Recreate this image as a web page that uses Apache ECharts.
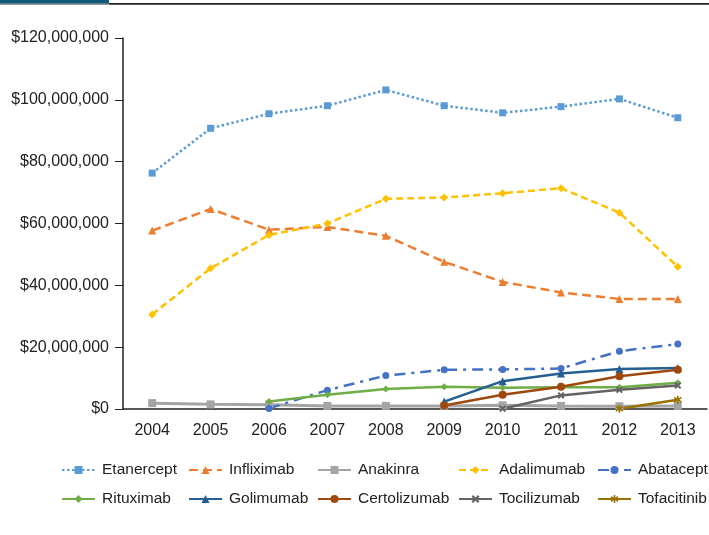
<!DOCTYPE html>
<html>
<head>
<meta charset="utf-8">
<style>
html,body{margin:0;padding:0;background:#fff;}
#chart{width:709px;height:535px;}
</style>
<script src="https://cdn.jsdelivr.net/npm/echarts@6/dist/echarts.min.js"></script>
</head>
<body>
<div id="chart"></div>
<script>
// Values in millions of US dollars
const years = ['2004','2005','2006','2007','2008','2009','2010','2011','2012','2013'];
const etanercept   = [76.3, 90.8, 95.5, 98.1, 103.2, 98.1, 95.8, 97.8, 100.3, 94.2];
const infliximab   = [57.7, 64.7, 58.0, 58.9, 56.0, 47.6, 41.1, 37.7, 35.6, 35.6];
const anakinra     = [1.9, 1.5, 1.4, 1.0, 1.0, 1.0, 1.2, 1.0, 0.9, 1.0];
const adalimumab   = [30.6, 45.5, 56.3, 60.0, 68.0, 68.4, 69.8, 71.4, 63.5, 46.0];
const abatacept    = [null, null, 0.2, 6.1, 10.8, 12.7, 12.8, 13.1, 18.7, 21.0];
const rituximab    = [null, null, 2.4, 4.6, 6.5, 7.2, 6.9, 7.0, 7.0, 8.5];
const golimumab    = [null, null, null, null, null, 2.4, 9.0, 11.5, 12.9, 13.3];
const certolizumab = [null, null, null, null, null, 1.1, 4.6, 7.2, 10.6, 12.7];
const tocilizumab  = [null, null, null, null, null, null, 0.1, 4.4, 6.2, 7.6];
const tofacitinib  = [null, null, null, null, null, null, null, null, 0.1, 3.0];
const yTicks = [0, 20, 40, 60, 80, 100, 120];

const xPath = 'path://M2,0L5,3L8,0L10,2L7,5L10,8L8,10L5,7L2,10L0,8L3,5L0,2Z';
const starPath = 'path://M4,0H6V3.3L8.6,1.2L9.8,2.8L7,5L9.8,7.2L8.6,8.8L6,6.7V10H4V6.7L1.4,8.8L0.2,7.2L3,5L0.2,2.8L1.4,1.2L4,3.3Z';

const specs = [
  {name:'Etanercept', data:etanercept, color:'#5B9BD5', type:[2.5,2.5], symbol:'rect', size:7, w:2.5},
  {name:'Infliximab', data:infliximab, color:'#ED7D31', type:[9,5], symbol:'triangle', size:8, w:2.5},
  {name:'Anakinra', data:anakinra, color:'#A5A5A5', type:'solid', symbol:'rect', size:8, w:3},
  {name:'Adalimumab', data:adalimumab, color:'#FFC000', type:[7,4], symbol:'diamond', size:8, w:2.5},
  {name:'Abatacept', data:abatacept, color:'#4472C4', type:[11,6,3,6], symbol:'circle', size:7, w:2.5},
  {name:'Rituximab', data:rituximab, color:'#70AD47', type:'solid', symbol:'diamond', size:7, w:2.5},
  {name:'Golimumab', data:golimumab, color:'#255E91', type:'solid', symbol:'triangle', size:8, w:2.5},
  {name:'Certolizumab', data:certolizumab, color:'#9E480E', type:'solid', symbol:'circle', size:8, w:2.5},
  {name:'Tocilizumab', data:tocilizumab, color:'#636363', type:'solid', symbol:xPath, size:7, w:2.5},
  {name:'Tofacitinib', data:tofacitinib, color:'#997300', type:'solid', symbol:starPath, size:8, w:2.5}
];

const colX = [61, 188, 317, 458, 597];
const rowY = [462, 491];
const font = "'Liberation Sans', Arial, sans-serif";

const legends = specs.map((s, i) => ({
  data: [s.name],
  left: colX[i % 5],
  top: rowY[Math.floor(i / 5)],
  padding: 0,
  itemWidth: 33,
  itemHeight: 10,
  textStyle: {fontFamily: font, fontSize: 15.5, color: '#222', padding: [0,0,0,2]}
}));

const series = specs.map(s => ({
  name: s.name,
  type: 'line',
  data: s.data,
  symbol: s.symbol,
  symbolSize: s.size,
  showAllSymbol: true,
  connectNulls: false,
  animation: false,
  lineStyle: {color: s.color, width: s.w, type: s.type},
  itemStyle: {color: s.color}
}));

const chart = echarts.init(document.getElementById('chart'));
chart.setOption({
  animation: false,
  backgroundColor: '#fff',
  graphic: [
    {type:'rect', shape:{x:0, y:0, width:709, height:5}, style:{fill:'#9a9a9a'}, silent:true},
    {type:'rect', shape:{x:109, y:3, width:600, height:1.4}, style:{fill:'#222'}, silent:true},
    {type:'rect', shape:{x:0, y:0, width:109, height:3.4}, style:{fill:'#0E5878'}, silent:true},
    {type:'rect', shape:{x:109, y:0, width:600, height:3}, style:{fill:'#fff'}, silent:true}
  ],
  grid: {left: 123, right: 2, top: 38, bottom: 126},
  legend: legends,
  xAxis: {
    type: 'category',
    data: years,
    boundaryGap: true,
    axisLine: {lineStyle: {color: '#222', width: 1.5}},
    axisTick: {alignWithLabel: true, length: 4, lineStyle: {color: '#222'}},
    axisLabel: {fontFamily: font, fontSize: 16, color: '#222', margin: 14}
  },
  yAxis: {
    type: 'value',
    min: yTicks[0],
    max: yTicks[yTicks.length - 1],
    interval: yTicks[1] - yTicks[0],
    axisLine: {show: true, lineStyle: {color: '#222', width: 1.5}},
    axisTick: {show: true, length: 8, lineStyle: {color: '#222'}},
    splitLine: {show: false},
    axisLabel: {
      fontFamily: font, fontSize: 16, color: '#222', margin: 14,
      formatter: v => '$' + (v * 1000000).toLocaleString('en-US')
    }
  },
  series: series
});
</script>
</body>
</html>
